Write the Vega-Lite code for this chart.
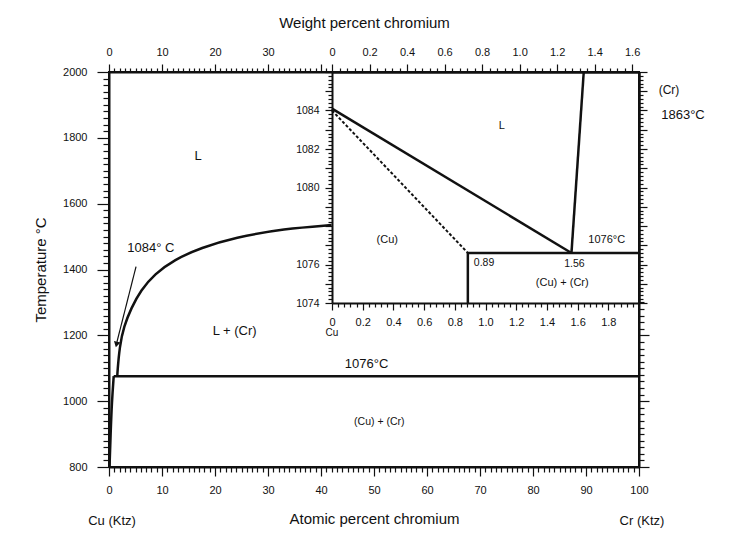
{
  "$schema": "https://vega.github.io/schema/vega-lite/v6.json",
  "width": 530,
  "height": 395,
  "autosize": {"type": "none"},
  "padding": {"left": 109, "top": 72, "right": 95, "bottom": 77},
  "background": "white",
  "config": {
    "view": {"stroke": "#111", "strokeWidth": 2},
    "mark": {"color": "#111"},
    "axis": {"grid": false, "domainColor": "#111", "domainWidth": 2, "tickColor": "#111", "tickWidth": 1.2, "labelColor": "#111", "labelFont": "Liberation Sans", "labelFontSize": 11, "titleFont": "Liberation Sans", "titleFontWeight": "normal", "titleColor": "#111", "titleFontSize": 15, "labelFlush": false, "labelOverlap": false},
    "text": {"font": "Liberation Sans", "color": "#111", "fill": "#111"}
  },
  "datasets": {
    "mainlines": [
      {"s": "liq", "i": 0, "x": 1.56, "T": 1076},
      {"s": "liq", "i": 1, "x": 1.6, "T": 1090},
      {"s": "liq", "i": 2, "x": 2.0, "T": 1166},
      {"s": "liq", "i": 3, "x": 2.8, "T": 1227},
      {"s": "liq", "i": 4, "x": 4.2, "T": 1283},
      {"s": "liq", "i": 5, "x": 6.0, "T": 1337},
      {"s": "liq", "i": 6, "x": 8.6, "T": 1386},
      {"s": "liq", "i": 7, "x": 12.3, "T": 1430},
      {"s": "liq", "i": 8, "x": 17.4, "T": 1466},
      {"s": "liq", "i": 9, "x": 23.7, "T": 1497},
      {"s": "liq", "i": 10, "x": 33.1, "T": 1524},
      {"s": "liq", "i": 11, "x": 42.0, "T": 1535},
      {"s": "eut", "i": 0, "x": 0.89, "T": 1076},
      {"s": "eut", "i": 1, "x": 100, "T": 1076},
      {"s": "solv", "i": 0, "x": 0.1, "T": 800},
      {"s": "solv", "i": 1, "x": 0.3, "T": 900},
      {"s": "solv", "i": 2, "x": 0.55, "T": 1000},
      {"s": "solv", "i": 3, "x": 0.89, "T": 1076}
    ],
    "arrow": [
      {"i": 0, "x": 5.1, "T": 1409},
      {"i": 1, "x": 1.5, "T": 1180}
    ],
    "arrowhead": [{"x": 1.42, "T": 1172}],
    "maintext": [
      {"t": "L", "x": 16.8, "T": 1745},
      {"t": "1084° C", "x": 7.9, "T": 1466},
      {"t": "L + (Cr)", "x": 23.7, "T": 1212},
      {"t": "1076°C", "x": 48.6, "T": 1114}
    ],
    "maintext2": [{"t": "(Cu) + (Cr)", "x": 51, "T": 937}],
    "crpoint": [{"x": 100, "T": 1863}],
    "bottomlabels": [
      {"t": "Cu (Ktz)", "x": 0, "T": 800},
      {"t": "Cr (Ktz)", "x": 100, "T": 800}
    ],
    "insetlines": [
      {"s": "liqcu", "i": 0, "x": 0, "T": 1084.1},
      {"s": "liqcu", "i": 1, "x": 1.56, "T": 1076.6},
      {"s": "eut", "i": 0, "x": 0.885, "T": 1076.6},
      {"s": "eut", "i": 1, "x": 2.0, "T": 1076.6},
      {"s": "vert", "i": 0, "x": 0.885, "T": 1076.6},
      {"s": "vert", "i": 1, "x": 0.885, "T": 1074},
      {"s": "liqcr", "i": 0, "x": 1.56, "T": 1076.6},
      {"s": "liqcr", "i": 1, "x": 1.64, "T": 1086}
    ],
    "solidus": [
      {"i": 0, "x": 0, "T": 1084.0},
      {"i": 1, "x": 0.885, "T": 1076.6}
    ],
    "insettext": [
      {"t": "L", "x": 1.107, "T": 1083.2},
      {"t": "(Cu)", "x": 0.36, "T": 1077.25},
      {"t": "1076°C", "x": 1.79, "T": 1077.28},
      {"t": "(Cu) + (Cr)", "x": 1.5, "T": 1075.06}
    ],
    "inset089": [{"t": "0.89", "x": 0.885, "T": 1076.6}],
    "inset156": [{"t": "1.56", "x": 1.56, "T": 1076.6}],
    "insetcu": [{"t": "Cu", "x": 0, "T": 1074}]
  },
  "layer": [
    {
      "layer": [
        {
          "data": {"name": "mainlines"},
          "mark": {"type": "line", "color": "#111", "strokeWidth": 2.5, "interpolate": "basis"},
          "encoding": {
            "x": {"field": "x", "type": "quantitative", "scale": {"domain": [0, 100], "nice": false, "zero": false},
              "axis": {"orient": "bottom", "title": "Atomic percent chromium", "titlePadding": 16,
                "values": [0,1,2,3,4,5,6,7,8,9,10,11,12,13,14,15,16,17,18,19,20,21,22,23,24,25,26,27,28,29,30,31,32,33,34,35,36,37,38,39,40,41,42,43,44,45,46,47,48,49,50,51,52,53,54,55,56,57,58,59,60,61,62,63,64,65,66,67,68,69,70,71,72,73,74,75,76,77,78,79,80,81,82,83,84,85,86,87,88,89,90,91,92,93,94,95,96,97,98,99,100],
                "tickSize": {"condition": {"test": "datum.value % 10 === 0", "value": 9}, "value": 5},
                "labelPadding": 8,
                "labelExpr": "datum.value % 10 === 0 ? format(datum.value, 'd') : ''"}},
            "y": {"field": "T", "type": "quantitative", "scale": {"domain": [800, 2000], "nice": false, "zero": false},
              "axis": {"orient": "left", "title": "Temperature °C", "titlePadding": 14,
                "values": [800,820,840,860,880,900,920,940,960,980,1000,1020,1040,1060,1080,1100,1120,1140,1160,1180,1200,1220,1240,1260,1280,1300,1320,1340,1360,1380,1400,1420,1440,1460,1480,1500,1520,1540,1560,1580,1600,1620,1640,1660,1680,1700,1720,1740,1760,1780,1800,1820,1840,1860,1880,1900,1920,1940,1960,1980,2000],
                "tickSize": {"condition": {"test": "datum.value % 200 === 0", "value": 12}, "value": 6},
                "labelPadding": 10,
                "labelExpr": "datum.value % 200 === 0 ? format(datum.value, 'd') : ''"}},
            "detail": {"field": "s"},
            "order": {"field": "i", "type": "quantitative"}
          }
        },
        {
          "data": {"name": "arrow"},
          "mark": {"type": "line", "color": "#111", "strokeWidth": 1.2},
          "encoding": {
            "x": {"field": "x", "type": "quantitative", "scale": {"domain": [0, 100], "nice": false, "zero": false}, "axis": null},
            "y": {"field": "T", "type": "quantitative", "scale": {"domain": [800, 2000], "nice": false, "zero": false}, "axis": null},
            "order": {"field": "i", "type": "quantitative"}
          }
        },
        {
          "data": {"name": "arrowhead"},
          "mark": {"type": "point", "shape": "triangle-down", "filled": true, "color": "#111", "size": 45, "angle": 14, "opacity": 1},
          "encoding": {
            "x": {"field": "x", "type": "quantitative", "scale": {"domain": [0, 100], "nice": false, "zero": false}, "axis": null},
            "y": {"field": "T", "type": "quantitative", "scale": {"domain": [800, 2000], "nice": false, "zero": false}, "axis": null}
          }
        },
        {
          "data": {"name": "maintext"},
          "mark": {"type": "text", "fontSize": 13, "color": "#111"},
          "encoding": {
            "x": {"field": "x", "type": "quantitative", "scale": {"domain": [0, 100], "nice": false, "zero": false},
              "axis": {"orient": "top", "title": "Weight percent chromium", "titlePadding": 16, "titleX": 255,
                "values": [0,1,2,3,4,5,6,7,8,9,10,11,12,13,14,15,16,17,18,19,20,21,22,23,24,25,26,27,28,29,30,31,32,33,34,35,36,37,38,39,40,41],
                "tickSize": {"condition": {"test": "datum.value % 10 === 0", "value": 8}, "value": 4},
                "labelPadding": 7,
                "labelExpr": "(datum.value % 10 === 0 && datum.value < 40) ? format(datum.value, 'd') : ''"}},
            "y": {"field": "T", "type": "quantitative", "scale": {"domain": [800, 2000], "nice": false, "zero": false},
              "axis": {"orient": "right", "title": null, "labels": false,
                "values": [800,820,840,860,880,900,920,940,960,980,1000,1020,1040,1060,1080,1100,1120,1140,1160,1180,1200,1220,1240,1260,1280,1300],
                "tickSize": {"condition": {"test": "datum.value % 200 === 0", "value": 10}, "value": 5}}},
            "text": {"field": "t"}
          }
        },
        {
          "data": {"name": "maintext2"},
          "mark": {"type": "text", "fontSize": 10.5, "color": "#111"},
          "encoding": {
            "x": {"field": "x", "type": "quantitative", "scale": {"domain": [0, 100], "nice": false, "zero": false}, "axis": null},
            "y": {"field": "T", "type": "quantitative", "scale": {"domain": [800, 2000], "nice": false, "zero": false}, "axis": null},
            "text": {"field": "t"}
          }
        },
        {
          "data": {"name": "crpoint"},
          "mark": {"type": "text", "fontSize": 12, "dx": 30, "dy": -27, "text": "(Cr)", "color": "#111"},
          "encoding": {
            "x": {"field": "x", "type": "quantitative", "scale": {"domain": [0, 100], "nice": false, "zero": false}, "axis": null},
            "y": {"field": "T", "type": "quantitative", "scale": {"domain": [800, 2000], "nice": false, "zero": false}, "axis": null}
          }
        },
        {
          "data": {"name": "crpoint"},
          "mark": {"type": "text", "fontSize": 13, "dx": 44, "dy": -2, "text": "1863°C", "color": "#111"},
          "encoding": {
            "x": {"field": "x", "type": "quantitative", "scale": {"domain": [0, 100], "nice": false, "zero": false}, "axis": null},
            "y": {"field": "T", "type": "quantitative", "scale": {"domain": [800, 2000], "nice": false, "zero": false}, "axis": null}
          }
        },
        {
          "data": {"name": "bottomlabels"},
          "mark": {"type": "text", "fontSize": 13, "dx": 3, "dy": 54, "color": "#111"},
          "encoding": {
            "x": {"field": "x", "type": "quantitative", "scale": {"domain": [0, 100], "nice": false, "zero": false}, "axis": null},
            "y": {"field": "T", "type": "quantitative", "scale": {"domain": [800, 2000], "nice": false, "zero": false}, "axis": null},
            "text": {"field": "t"}
          }
        }
      ],
      "resolve": {"axis": {"x": "independent", "y": "independent"}}
    },
    {
      "layer": [
        {
          "data": {"name": "insetlines"},
          "mark": {"type": "line", "color": "#111", "strokeWidth": 2.5},
          "encoding": {
            "x": {"field": "x", "type": "quantitative", "scale": {"domain": [0, 2], "range": [223, 530], "nice": false, "zero": false},
              "axis": {"orient": "bottom", "offset": -164, "title": null,
                "values": [0,0.04,0.08,0.12,0.16,0.2,0.24,0.28,0.32,0.36,0.4,0.44,0.48,0.52,0.56,0.6,0.64,0.68,0.72,0.76,0.8,0.84,0.88,0.92,0.96,1,1.04,1.08,1.12,1.16,1.2,1.24,1.28,1.32,1.36,1.4,1.44,1.48,1.52,1.56,1.6,1.64,1.68,1.72,1.76,1.8,1.84,1.88,1.92,1.96],
                "tickSize": {"condition": {"test": "abs(datum.value*5 - round(datum.value*5)) < 0.001", "value": 7}, "value": 4},
                "labelPadding": 6,
                "labelExpr": "abs(datum.value*5 - round(datum.value*5)) < 0.001 ? (datum.value < 0.001 ? '0' : format(datum.value, '.1f')) : ''"}},
            "y": {"field": "T", "type": "quantitative", "scale": {"domain": [1074, 1086], "range": [231, 0], "nice": false, "zero": false},
              "axis": {"orient": "left", "offset": -223, "title": null,
                "values": [1074,1074.2,1074.4,1074.6,1074.8,1075,1075.2,1075.4,1075.6,1075.8,1076,1076.2,1076.4,1076.6,1076.8,1077,1077.2,1077.4,1077.6,1077.8,1078,1078.2,1078.4,1078.6,1078.8,1079,1079.2,1079.4,1079.6,1079.8,1080,1080.2,1080.4,1080.6,1080.8,1081,1081.2,1081.4,1081.6,1081.8,1082,1082.2,1082.4,1082.6,1082.8,1083,1083.2,1083.4,1083.6,1083.8,1084,1084.2,1084.4,1084.6,1084.8,1085,1085.2,1085.4,1085.6,1085.8,1086],
                "tickSize": {"condition": {"test": "abs(datum.value - round(datum.value)) < 0.01", "value": 7}, "value": 4},
                "labelPadding": 6, "labelFontSize": 10.5,
                "labelExpr": "(abs(datum.value - round(datum.value)) < 0.01 && round(datum.value) % 2 == 0 && round(datum.value) != 1078 && round(datum.value) != 1086) ? format(round(datum.value), 'd') : ''"}},
            "detail": {"field": "s"},
            "order": {"field": "i", "type": "quantitative"}
          }
        },
        {
          "data": {"name": "solidus"},
          "mark": {"type": "line", "color": "#111", "strokeWidth": 2, "strokeDash": [3, 2]},
          "encoding": {
            "x": {"field": "x", "type": "quantitative", "scale": {"domain": [0, 2], "range": [223, 530], "nice": false, "zero": false},
              "axis": {"orient": "top", "title": null,
                "values": [0,0.04888,0.09777,0.14665,0.19554,0.24442,0.2933,0.34219,0.39107,0.43996,0.48884,0.53772,0.58661,0.63549,0.68438,0.73326,0.78214,0.83103,0.87991,0.9288,0.97768,1.02656,1.07545,1.12433,1.17322,1.2221,1.27098,1.31987,1.36875,1.41764,1.46652,1.5154,1.56429,1.61317,1.66206,1.71094,1.75982,1.80871,1.85759,1.90648,1.95536],
                "tickSize": {"condition": {"test": "abs(datum.value/1.2221*5 - round(datum.value/1.2221*5)) < 0.01", "value": 8}, "value": 4},
                "labelPadding": 7,
                "labelExpr": "abs(datum.value/1.2221*5 - round(datum.value/1.2221*5)) < 0.01 ? (datum.value < 0.001 ? '0' : format(datum.value/1.2221, '.1f')) : ''"}},
            "y": {"field": "T", "type": "quantitative", "scale": {"domain": [1074, 1086], "range": [231, 0], "nice": false, "zero": false},
              "axis": {"orient": "right", "title": null, "labels": false,
                "values": [1074,1074.2,1074.4,1074.6,1074.8,1075,1075.2,1075.4,1075.6,1075.8,1076,1076.2,1076.4,1076.6,1076.8,1077,1077.2,1077.4,1077.6,1077.8,1078,1078.2,1078.4,1078.6,1078.8,1079,1079.2,1079.4,1079.6,1079.8,1080,1080.2,1080.4,1080.6,1080.8,1081,1081.2,1081.4,1081.6,1081.8,1082,1082.2,1082.4,1082.6,1082.8,1083,1083.2,1083.4,1083.6,1083.8,1084,1084.2,1084.4,1084.6,1084.8,1085,1085.2,1085.4,1085.6,1085.8,1086],
                "tickSize": {"condition": {"test": "abs(datum.value - round(datum.value)) < 0.01", "value": 8}, "value": 4}}},
            "order": {"field": "i", "type": "quantitative"}
          }
        },
        {
          "data": {"name": "insettext"},
          "mark": {"type": "text", "fontSize": 11, "color": "#111"},
          "encoding": {
            "x": {"field": "x", "type": "quantitative", "scale": {"domain": [0, 2], "range": [223, 530], "nice": false, "zero": false}, "axis": null},
            "y": {"field": "T", "type": "quantitative", "scale": {"domain": [1074, 1086], "range": [231, 0], "nice": false, "zero": false}, "axis": null},
            "text": {"field": "t"}
          }
        },
        {
          "data": {"name": "inset089"},
          "mark": {"type": "text", "fontSize": 10.5, "align": "left", "dx": 6, "dy": 10, "color": "#111"},
          "encoding": {
            "x": {"field": "x", "type": "quantitative", "scale": {"domain": [0, 2], "range": [223, 530], "nice": false, "zero": false}, "axis": null},
            "y": {"field": "T", "type": "quantitative", "scale": {"domain": [1074, 1086], "range": [231, 0], "nice": false, "zero": false}, "axis": null},
            "text": {"field": "t"}
          }
        },
        {
          "data": {"name": "inset156"},
          "mark": {"type": "text", "fontSize": 10.5, "dx": 3, "dy": 11, "color": "#111"},
          "encoding": {
            "x": {"field": "x", "type": "quantitative", "scale": {"domain": [0, 2], "range": [223, 530], "nice": false, "zero": false}, "axis": null},
            "y": {"field": "T", "type": "quantitative", "scale": {"domain": [1074, 1086], "range": [231, 0], "nice": false, "zero": false}, "axis": null},
            "text": {"field": "t"}
          }
        },
        {
          "data": {"name": "insetcu"},
          "mark": {"type": "text", "fontSize": 10, "dy": 30, "color": "#111"},
          "encoding": {
            "x": {"field": "x", "type": "quantitative", "scale": {"domain": [0, 2], "range": [223, 530], "nice": false, "zero": false}, "axis": null},
            "y": {"field": "T", "type": "quantitative", "scale": {"domain": [1074, 1086], "range": [231, 0], "nice": false, "zero": false}, "axis": null},
            "text": {"field": "t"}
          }
        }
      ],
      "resolve": {"axis": {"x": "independent", "y": "independent"}}
    }
  ],
  "resolve": {"scale": {"x": "independent", "y": "independent"}, "axis": {"x": "independent", "y": "independent"}}
}
